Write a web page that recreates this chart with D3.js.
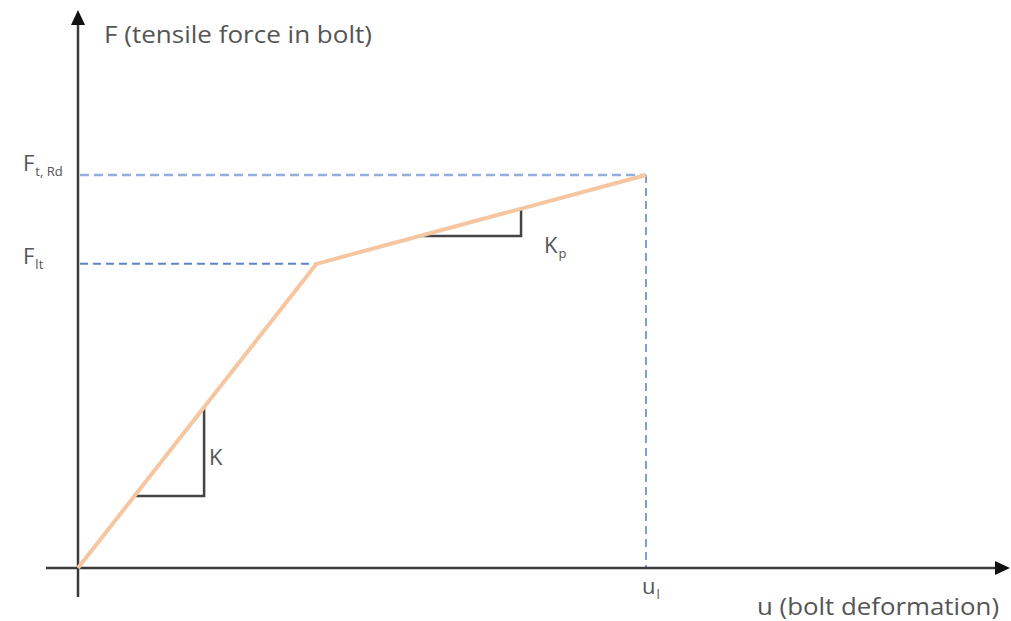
<!DOCTYPE html>
<html>
<head>
<meta charset="utf-8">
<script src="https://cdn.jsdelivr.net/npm/d3@7.9.0/dist/d3.min.js"></script>
<style>
  body { margin: 0; background: #fff; }
  svg text { font-family: "Open Sans", sans-serif; fill: #555; }
</style>
</head>
<body>
<svg id="vis"></svg>
<script>
const width = 1011;
const height = 621;

// curve: bilinear bolt law, u and F normalised to u_l and F_t,Rd
const curveU = [0, 0.42, 1];
const curveF = [0, 0.774, 1];

// slope triangles [u start, u end, F base, F top]
const triK = [0.102, 0.222, 0.183, 0.407];
const triKp = [0.599, 0.78, 0.845, 0.916];

const fLt = 0.774;
const fRd = 1;
const uL = 1;

const svg = d3.select("#vis")
    .attr("width", width)
    .attr("height", height);

const x = d3.scaleLinear().domain([0, 1]).range([78, 646]);
const y = d3.scaleLinear().domain([0, 1]).range([568, 175]);

const axisColor = "#3a3a3a";

// dashed guides
svg.append("line")
    .attr("x1", x(0) + 2).attr("x2", x(uL))
    .attr("y1", y(fRd)).attr("y2", y(fRd))
    .attr("stroke", "#93b0dd").attr("stroke-width", 2.5)
    .attr("stroke-dasharray", "9,5");

svg.append("line")
    .attr("x1", x(uL)).attr("x2", x(uL))
    .attr("y1", y(fRd)).attr("y2", y(0))
    .attr("stroke", "#7d9fd6").attr("stroke-width", 2)
    .attr("stroke-dasharray", "8,5");

svg.append("line")
    .attr("x1", x(0) + 2).attr("x2", x(curveU[1]))
    .attr("y1", y(fLt)).attr("y2", y(fLt))
    .attr("stroke", "#5b84cc").attr("stroke-width", 2)
    .attr("stroke-dasharray", "8,5");

// axes
svg.append("line")
    .attr("x1", 46).attr("x2", width - 12)
    .attr("y1", y(0)).attr("y2", y(0))
    .attr("stroke", axisColor).attr("stroke-width", 2.5);
svg.append("path")
    .attr("d", `M${width - 1},${y(0)} L${width - 16},${y(0) - 7} L${width - 16},${y(0) + 7} Z`)
    .attr("fill", "#111");

svg.append("line")
    .attr("x1", x(0)).attr("x2", x(0))
    .attr("y1", 597).attr("y2", 22)
    .attr("stroke", axisColor).attr("stroke-width", 2.5);
svg.append("path")
    .attr("d", `M${x(0)},10 L${x(0) - 7},25 L${x(0) + 7},25 Z`)
    .attr("fill", "#111");

// slope triangles
function triangle(t) {
    svg.append("path")
        .attr("d", `M${x(t[0])},${y(t[2])} L${x(t[1])},${y(t[2])} L${x(t[1])},${y(t[3])}`)
        .attr("fill", "none")
        .attr("stroke", "#444")
        .attr("stroke-width", 2.5);
}
triangle(triK);
triangle(triKp);

// force-deformation curve
const line = d3.line()
    .x((d, i) => x(curveU[i]))
    .y(d => y(d));

svg.append("path")
    .datum(curveF)
    .attr("d", line)
    .attr("fill", "none")
    .attr("stroke", "#f5c6a0")
    .attr("stroke-width", 4)
    .attr("stroke-linejoin", "round");

// labels
svg.append("text")
    .attr("x", 104).attr("y", 43)
    .style("font-size", "23px")
    .attr("textLength", 268)
    .attr("lengthAdjust", "spacingAndGlyphs")
    .text("F (tensile force in bolt)");

svg.append("text")
    .attr("x", 757).attr("y", 615)
    .style("font-size", "23px")
    .attr("textLength", 242)
    .attr("lengthAdjust", "spacingAndGlyphs")
    .text("u (bolt deformation)");

function subLabel(px, py, main, sub) {
    const t = svg.append("text")
        .attr("x", px).attr("y", py)
        .style("font-size", "22px");
    t.append("tspan").text(main);
    t.append("tspan")
        .attr("dy", 5)
        .attr("dx", 1)
        .style("font-size", "13px")
        .text(sub);
}

subLabel(23, 171, "F", "t, Rd");
subLabel(23, 264, "F", "lt");
subLabel(642, 594, "u", "l");
subLabel(x(triKp[1]) + 23, 253, "K", "p");

svg.append("text")
    .attr("x", x(triK[1]) + 5).attr("y", 465)
    .style("font-size", "22px")
    .text("K");
</script>
</body>
</html>
